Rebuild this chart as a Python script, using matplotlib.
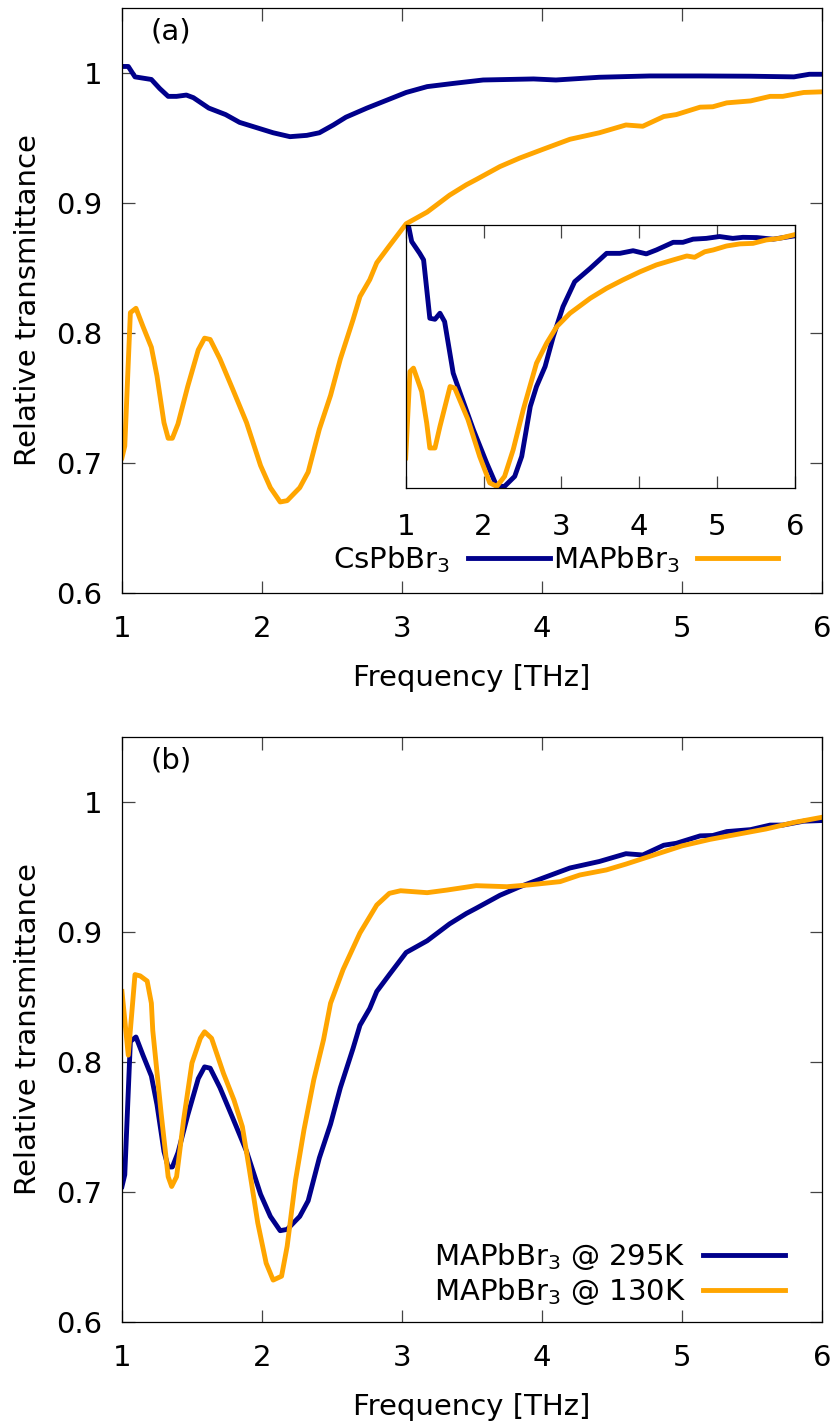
import matplotlib
matplotlib.use("Agg")
import matplotlib.pyplot as plt

BLUE = "#00008b"
ORANGE = "#ffa500"

# panel (a): CsPbBr3
cs_f = [1.0, 1.045, 1.093, 1.21, 1.27, 1.33, 1.39, 1.46, 1.51, 1.62, 1.74, 1.84, 1.96,
        2.08, 2.2, 2.32, 2.41, 2.51, 2.60, 2.75, 2.89, 3.03, 3.18, 3.37, 3.58, 3.94,
        4.10, 4.41, 4.77, 5.13, 5.49, 5.80, 5.91, 6.0]
cs_t = [1.005, 1.005, 0.997, 0.995, 0.988, 0.982, 0.982, 0.983, 0.981, 0.973, 0.968,
        0.962, 0.958, 0.954, 0.951, 0.952, 0.954, 0.960, 0.966, 0.973, 0.979, 0.985,
        0.9895, 0.992, 0.9946, 0.9954, 0.9946, 0.9967, 0.9977, 0.9977, 0.9975, 0.997,
        0.999, 0.999]

# MAPbBr3 at 295 K (panel a and panel b)
ma_f = [1.0, 1.02, 1.06, 1.10, 1.15, 1.21, 1.25, 1.30, 1.33, 1.36, 1.40, 1.47, 1.545,
        1.59, 1.63, 1.70, 1.79, 1.89, 1.99, 2.06, 2.13, 2.18, 2.27, 2.33, 2.41, 2.49,
        2.56, 2.65, 2.70, 2.77, 2.82, 2.91, 3.03, 3.18, 3.34, 3.46, 3.53, 3.70, 3.84,
        4.01, 4.2, 4.41, 4.60, 4.72, 4.87, 4.96, 5.13, 5.22, 5.32, 5.49, 5.63, 5.72,
        5.87, 6.0]
ma_t = [0.704, 0.713, 0.8156, 0.819, 0.805, 0.789, 0.767, 0.731, 0.719, 0.719, 0.730,
        0.759, 0.787, 0.796, 0.795, 0.780, 0.757, 0.731, 0.698, 0.681, 0.670, 0.671,
        0.681, 0.693, 0.726, 0.752, 0.780, 0.810, 0.828, 0.841, 0.854, 0.867, 0.884,
        0.893, 0.906, 0.914, 0.918, 0.928, 0.9345, 0.9414, 0.949, 0.954, 0.960, 0.959,
        0.9665, 0.968, 0.9737, 0.974, 0.977, 0.9785, 0.982, 0.982, 0.985, 0.9855]

# MAPbBr3 at 130 K (panel b)
lt_f = [1.0, 1.045, 1.093, 1.13, 1.18, 1.21, 1.22, 1.28, 1.33, 1.355, 1.39, 1.44, 1.50,
        1.56, 1.59, 1.64, 1.725, 1.80, 1.86, 1.91, 1.97, 2.03, 2.08, 2.14, 2.18, 2.24,
        2.30, 2.37, 2.44, 2.49, 2.58, 2.70, 2.82, 2.91, 2.99, 3.18, 3.32, 3.53, 3.75,
        3.91, 4.13, 4.27, 4.46, 4.6, 4.8, 5.0, 5.2, 5.4, 5.6, 5.8, 6.0]
lt_t = [0.854, 0.805, 0.867, 0.866, 0.862, 0.845, 0.824, 0.760, 0.7115, 0.704, 0.7115,
        0.755, 0.799, 0.818, 0.823, 0.818, 0.791, 0.7705, 0.75, 0.717, 0.676, 0.645,
        0.632, 0.635, 0.658, 0.709, 0.7475, 0.786, 0.817, 0.845, 0.871, 0.899, 0.9205,
        0.9295, 0.9315, 0.930, 0.932, 0.9354, 0.9346, 0.936, 0.9385, 0.9436, 0.9475,
        0.952, 0.959, 0.966, 0.971, 0.975, 0.979, 0.984, 0.988]

# inset (normalised)
in_cs_f = [1.0, 1.077, 1.18, 1.23, 1.31, 1.376, 1.44, 1.50, 1.61, 1.70, 1.87, 2.04,
           2.17, 2.27, 2.40, 2.49, 2.60, 2.68, 2.79, 2.895, 3.02, 3.17, 3.37, 3.58,
           3.75, 3.92, 4.09, 4.22, 4.435, 4.56, 4.69, 4.86, 5.03, 5.20, 5.33, 5.51,
           5.72, 5.98]
in_cs_n = [1.05, 0.937, 0.892, 0.867, 0.645, 0.641, 0.664, 0.632, 0.436, 0.360, 0.22,
           0.094, 0.005, 0.005, 0.043, 0.119, 0.309, 0.385, 0.461, 0.575, 0.689, 0.784,
           0.835, 0.892, 0.892, 0.902, 0.890, 0.905, 0.934, 0.934, 0.946, 0.949, 0.956,
           0.949, 0.953, 0.952, 0.946, 0.958]
in_ma_f = [1.0, 1.055, 1.10, 1.205, 1.27, 1.31, 1.376, 1.44, 1.57, 1.63, 1.80, 1.95,
           2.08, 2.17, 2.27, 2.38, 2.51, 2.68, 2.81, 2.94, 3.11, 3.37, 3.58, 3.79, 4.01,
           4.22, 4.435, 4.61, 4.71, 4.84, 4.95, 5.12, 5.29, 5.46, 5.63, 5.80, 5.98]
in_ma_n = [0.113, 0.442, 0.455, 0.366, 0.246, 0.151, 0.151, 0.233, 0.385, 0.379, 0.259,
           0.119, 0.018, 0.005, 0.043, 0.144, 0.297, 0.474, 0.55, 0.613, 0.664, 0.721,
           0.759, 0.791, 0.822, 0.848, 0.867, 0.882, 0.877, 0.898, 0.905, 0.920, 0.928,
           0.930, 0.943, 0.949, 0.962]

xticks = [1, 2, 3, 4, 5, 6]
yticks = [0.6, 0.7, 0.8, 0.9, 1.0]
ytick_labels = ["0.6", "0.7", "0.8", "0.9", "1"]

FS = 21
LW = 3.5
plt.rcParams["font.family"] = "DejaVu Sans"
plt.rcParams["font.size"] = FS
plt.rcParams["mathtext.default"] = "regular"


def style_axes(ax, xpad=16, ypad=14):
    for s in ax.spines.values():
        s.set_linewidth(0.9)
    ax.tick_params(direction="in", length=9, width=0.9, color="#444444",
                   top=True, right=True, labelsize=FS)
    ax.tick_params(axis="x", pad=xpad)
    ax.tick_params(axis="y", pad=ypad)


fig = plt.figure(figsize=(8.32, 14.23), dpi=100)
ax1 = fig.add_axes([0.1466, 0.5833, 0.8413, 0.4111])
ax2 = fig.add_axes([0.1466, 0.0712, 0.8413, 0.4111])

# panel (a)
ax1.plot(cs_f, cs_t, color=BLUE, lw=LW, label="CsPbBr$_3$")
ax1.plot(ma_f, ma_t, color=ORANGE, lw=LW, label="MAPbBr$_3$")
ax1.set_xlim(1, 6)
ax1.set_ylim(0.6, 1.05)
ax1.set_xticks(xticks)
ax1.set_yticks(yticks)
ax1.set_yticklabels(ytick_labels)
ax1.set_xlabel("Frequency [THz]", labelpad=15)
ax1.set_ylabel("Relative transmittance", labelpad=10)
ax1.text(0.07, 0.96, "(a)", transform=ax1.transAxes, ha="center", va="center")
style_axes(ax1)
ax1.legend(loc="lower center", bbox_to_anchor=(0.62, 0.0), ncol=2, frameon=False,
           markerfirst=False, handlelength=2.8, handletextpad=0.6, columnspacing=0.1,
           borderaxespad=0.2, fontsize=FS)

# inset
axi = fig.add_axes([0.4876, 0.6573, 0.468, 0.1846])
axi.plot(in_cs_f, in_cs_n, color=BLUE, lw=LW)
axi.plot(in_ma_f, in_ma_n, color=ORANGE, lw=LW)
axi.set_xlim(1, 6)
axi.set_ylim(0, 1)
axi.set_xticks(xticks)
axi.set_yticks([])
for s in axi.spines.values():
    s.set_linewidth(0.9)
axi.tick_params(direction="in", length=9, width=0.9, color="#444444", top=True,
                labelsize=FS, pad=18)

# panel (b)
ax2.plot(ma_f, ma_t, color=BLUE, lw=LW, label="MAPbBr$_3$ @ 295K")
ax2.plot(lt_f, lt_t, color=ORANGE, lw=LW, label="MAPbBr$_3$ @ 130K")
ax2.set_xlim(1, 6)
ax2.set_ylim(0.6, 1.05)
ax2.set_xticks(xticks)
ax2.set_yticks(yticks)
ax2.set_yticklabels(ytick_labels)
ax2.set_xlabel("Frequency [THz]", labelpad=15)
ax2.set_ylabel("Relative transmittance", labelpad=10)
ax2.text(0.07, 0.96, "(b)", transform=ax2.transAxes, ha="center", va="center")
style_axes(ax2)
ax2.legend(loc="lower right", bbox_to_anchor=(0.972, -0.005), frameon=False,
           markerfirst=False, handlelength=2.8, handletextpad=0.6, labelspacing=0.15,
           borderaxespad=0.2, fontsize=FS)

fig.savefig("out.png", dpi=100)
